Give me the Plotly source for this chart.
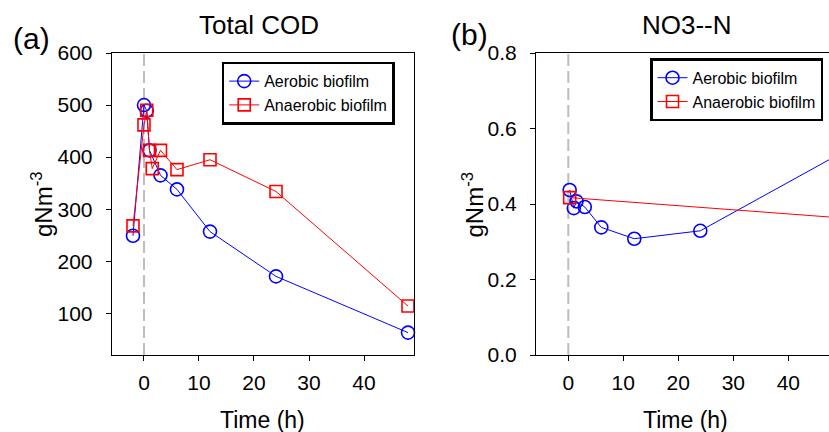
import plotly.graph_objects as go

# ---- data ----
cod_aer_t = [-2, 0, 0.5, 1, 3, 6, 12, 24, 48]
cod_aer_v = [249, 500, 489, 413, 365, 338, 257, 171, 63]
cod_ana_t = [-2, 0, 0.5, 1, 1.5, 3, 6, 12, 24, 48]
cod_ana_v = [268, 462, 490, 413, 378, 413, 376, 395, 334, 114]

no3_aer_t = [0.25, 1, 1.5, 3, 6, 12, 24, 48]
no3_aer_v = [0.437, 0.389, 0.407, 0.392, 0.338, 0.308, 0.329, 0.522]
no3_ana_t = [0.25, 48]
no3_ana_v = [0.417, 0.365]

x_ticks = [0, 10, 20, 30, 40]
cod_ticks = [100, 200, 300, 400, 500, 600]
no3_ticks = [0.0, 0.2, 0.4, 0.6, 0.8]

BLUE = "#0000FF"
RED = "#FF0000"
FONT = "Liberation Sans, Arial, sans-serif"
W, H = 829, 432
TOP, BOT = 53, 355


def px(x):
    return x / W


def py(y):
    return (BOT - y) / (BOT - TOP)


fig = go.Figure()

fig.add_trace(go.Scatter(x=cod_aer_t, y=cod_aer_v, mode="lines+markers", name="Aerobic biofilm",
                         line=dict(color=BLUE, width=1),
                         marker=dict(symbol="circle-open", size=13, color=BLUE, line=dict(width=1.6)),
                         xaxis="x", yaxis="y", legend="legend", cliponaxis=False))
fig.add_trace(go.Scatter(x=cod_ana_t, y=cod_ana_v, mode="lines+markers", name="Anaerobic biofilm",
                         line=dict(color=RED, width=1),
                         marker=dict(symbol="square-open", size=12, color=RED, line=dict(width=1.6)),
                         xaxis="x", yaxis="y", legend="legend", cliponaxis=False))
fig.add_trace(go.Scatter(x=no3_aer_t, y=no3_aer_v, mode="lines+markers", name="Aerobic biofilm",
                         line=dict(color=BLUE, width=1),
                         marker=dict(symbol="circle-open", size=13, color=BLUE, line=dict(width=1.6)),
                         xaxis="x2", yaxis="y2", legend="legend2", cliponaxis=False))
fig.add_trace(go.Scatter(x=no3_ana_t, y=no3_ana_v, mode="lines+markers", name="Anaerobic biofilm",
                         line=dict(color=RED, width=1),
                         marker=dict(symbol="square-open", size=12, color=RED, line=dict(width=1.6)),
                         xaxis="x2", yaxis="y2", legend="legend2", cliponaxis=False))

axis_common = dict(showgrid=False, zeroline=False, showline=True, linecolor="black", linewidth=1,
                   ticks="outside", ticklen=5, tickwidth=1, tickcolor="black",
                   tickfont=dict(family=FONT, size=21, color="black"))
xstyle = dict(axis_common, ticklabelstandoff=4)
ystyle = dict(axis_common, ticklabelstandoff=9)

leg_common = dict(xanchor="left", yanchor="top", bordercolor="black", borderwidth=2.5,
                  bgcolor="white", font=dict(family=FONT, size=16, color="black"),
                  tracegroupgap=0, itemwidth=30)

fig.update_layout(
    width=W, height=H,
    margin=dict(l=0, r=0, t=TOP, b=H - BOT, autoexpand=False),
    paper_bgcolor="white", plot_bgcolor="white",
    font=dict(family=FONT, color="black"),
    xaxis=dict(domain=[px(111.7), px(414)], range=[-5.87, 49.09], tickvals=x_ticks,
               mirror=True, anchor="y", **xstyle),
    yaxis=dict(domain=[0, 1], range=[20, 600], tickvals=cod_ticks, mirror=True, anchor="x",
               **ystyle),
    xaxis2=dict(domain=[px(536), 1], range=[-5.87, 47.4], tickvals=x_ticks,
                mirror=True, anchor="y2", **xstyle),
    yaxis2=dict(domain=[0, 1], range=[0, 0.8], tickvals=no3_ticks, tickformat=".1f",
                mirror=False, anchor="x2", **ystyle),
    legend=dict(x=px(221.7), y=py(61.7), **leg_common),
    legend2=dict(x=px(650), y=py(58.3), **leg_common),
    shapes=[
        dict(type="line", xref="x", yref="y domain", x0=0, x1=0, y0=0, y1=1, layer="below",
             line=dict(color="#BDBDBD", width=2, dash="12px,5px")),
        dict(type="line", xref="x2", yref="y2 domain", x0=0, x1=0, y0=0, y1=1, layer="below",
             line=dict(color="#BDBDBD", width=2, dash="12px,5px")),
    ],
)

ann = [
    dict(text="Total COD", x=px(259), y=py(25), size=26),
    dict(text="NO3--N", x=px(686.7), y=py(25), size=26),
    dict(text="(a)", x=px(31.5), y=py(38), size=30),
    dict(text="(b)", x=px(469.5), y=py(35), size=30),
    dict(text="Time (h)", x=px(262.9), y=py(420), size=23),
    dict(text="Time (h)", x=px(685.8), y=py(420), size=23),
]
for a in ann:
    fig.add_annotation(text=a["text"], x=a["x"], y=a["y"], xref="paper", yref="paper",
                       xanchor="center", yanchor="middle", showarrow=False,
                       font=dict(family=FONT, size=a["size"], color="black"))
for xx in (42, 472.5):
    fig.add_annotation(text="gNm<sup>-3</sup>", x=px(xx), y=py(204), xref="paper", yref="paper",
                       xanchor="center", yanchor="middle", showarrow=False, textangle=-90,
                       font=dict(family=FONT, size=24, color="black"))

fig.write_html("out.html", config={"displayModeBar": False},
               post_script="document.body.style.margin='0';document.body.style.overflow='hidden';")
